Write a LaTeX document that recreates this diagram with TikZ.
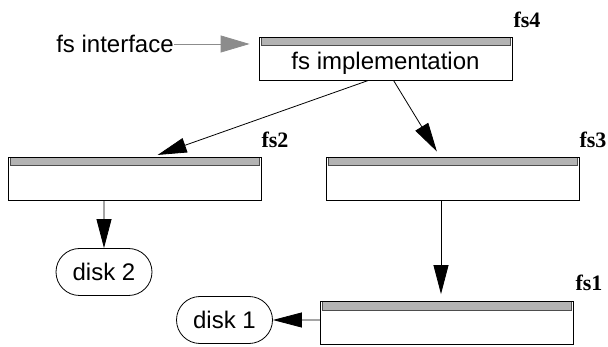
\documentclass[tikz,border=0pt]{standalone}
\usepackage{fontspec}
\setsansfont{Liberation Sans}
\newfontfamily\tagfont{Liberation Serif}
\usepackage{tikz}
\usetikzlibrary{arrows.meta}
\usetikzlibrary{positioning,shapes.misc}

\definecolor{bargray}{HTML}{B3B3B3}
\definecolor{bardark}{HTML}{4D4D4D}
\definecolor{ifacegray}{HTML}{8C8C8C}

\begin{document}
\begin{tikzpicture}[x=1pt, y=-1pt, every node/.style={font=\sffamily\fontsize{24}{28}\selectfont}]
		\tikzstyle{fsbox}=[draw, line width=0.8pt, minimum width=253pt, minimum height=43pt, inner sep=0pt,
			path picture={\draw[fill=bargray, draw=bardark, line width=0.8pt]
				([xshift=2pt]path picture bounding box.north west) rectangle
				([xshift=-2pt, yshift=-8.5pt]path picture bounding box.north east);}]
		\tikzstyle{disk}=[draw, rounded rectangle, line width=0.8pt, minimum width=96pt, minimum height=47pt, inner sep=0pt]
		\tikzstyle{fstag}=[font=\tagfont\bfseries\fontsize{22}{26}\selectfont, inner sep=0pt]
		\tikzstyle{blackarrow}=[line width=0.8pt, -{Triangle[length=29pt, width=15pt]}]
		\tikzstyle{grayarrow}=[line width=0.8pt, color=ifacegray, -{Triangle[length=29pt, width=17pt]}]
		
		\useasboundingbox (0,0) rectangle (608,347);
		
		\node[fsbox, label={[yshift=-4.5pt]center:fs implementation}] (fsfour) at (385.5, 58.5) {};
		\node[fsbox]  (fstwo)   at (135, 178.5) {};
		\node[fsbox]  (fsthree) at (453, 178.5) {};
		\node[fsbox]  (fsone)   at (447, 323)   {};
		\node[disk]   (disktwo) at (104, 272)   {disk 2};
		\node[disk]   (diskone) at (224.5, 320) {disk 1};
		\node[inner sep=0pt] (iface) at (115, 44) {fs interface};
		
		\node[fstag] (fsfourtag)  at (527, 20)  {fs4};
		\node[fstag] (fstwotag)   at (275, 140) {fs2};
		\node[fstag] (fsthreetag) at (593, 140) {fs3};
		\node[fstag] (fsonetag)   at (589, 283) {fs1};
		
		\path
		(iface.east) edge [grayarrow, shorten >=9pt] (iface.east -| fsfour.west)
		([xshift=-17pt]fsfour.south)  edge [blackarrow, shorten >=5pt] ([xshift=18pt]fstwo.north)
		([xshift=8pt]fsfour.south)    edge [blackarrow, shorten >=6pt] ([xshift=-13pt]fsthree.north)
		(disktwo |- fstwo.south)      edge [blackarrow]                (disktwo)
		([xshift=-12pt]fsthree.south) edge [blackarrow, shorten >=7pt] ([xshift=-12pt]fsthree.south |- fsone.north)
		(fsone.west |- diskone)       edge [blackarrow]                (diskone)
		;
\end{tikzpicture}
\end{document}
